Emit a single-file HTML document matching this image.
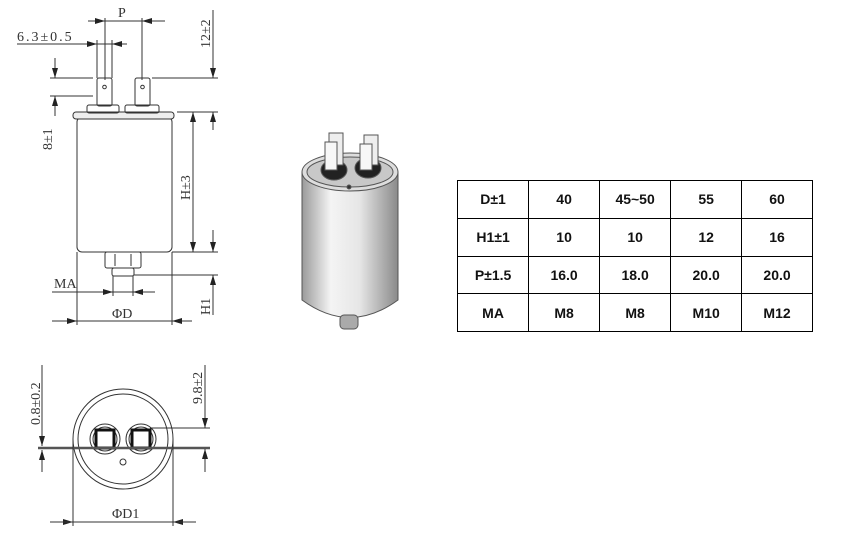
<!DOCTYPE html>
<html><head><meta charset="utf-8"><style>
body{margin:0;background:#fff;width:846px;height:548px;overflow:hidden;position:relative;font-family:"Liberation Sans",sans-serif}
svg{position:absolute;left:0;top:0}
table{position:absolute;left:457px;top:180px;border-collapse:collapse;width:356px;height:152px}
td{border:1.5px solid #000;text-align:center;font-size:14px;font-weight:bold;color:#111;width:71px;padding:0}
</style></head><body>
<svg width="846" height="548" viewBox="0 0 846 548">
<defs>
<marker id="a" viewBox="0 0 10 6" refX="10" refY="3" markerWidth="10" markerHeight="6" orient="auto-start-reverse"><path d="M0,0L10,3L0,6z" fill="#222"/></marker>
<linearGradient id="g" x1="0" x2="1"><stop offset="0" stop-color="#9a9a9a"/><stop offset=".3" stop-color="#f4f4f4"/><stop offset=".6" stop-color="#e6e6e6"/><stop offset="1" stop-color="#8a8a8a"/></linearGradient>
</defs>
<g stroke="#333" stroke-width="1" fill="none" font-family="Liberation Serif,serif" font-size="14">
<rect x="77" y="117" width="95" height="135" rx="5" fill="#fff"/>
<rect x="73" y="112" width="101" height="7" rx="3" fill="#eee"/>
<rect x="87" y="105" width="32" height="8" rx="2"/><rect x="125" y="105" width="34" height="8" rx="2"/>
<rect x="97" y="78" width="15" height="28" rx="2"/><rect x="135" y="78" width="15" height="28" rx="2"/>
<circle cx="104.5" cy="87" r="1.8"/><circle cx="142.5" cy="87" r="1.8"/>
<rect x="105" y="252" width="36" height="16" rx="2"/><rect x="112" y="268" width="22" height="8" rx="2"/>
<line x1="115" y1="254" x2="115" y2="266"/><line x1="131" y1="254" x2="131" y2="266"/>
<line x1="88" y1="21" x2="165" y2="21"/>
<line x1="90" y1="21" x2="105" y2="21" marker-end="url(#a)"/><line x1="160" y1="21" x2="142" y2="21" marker-end="url(#a)"/>
<line x1="105" y1="18" x2="105" y2="80"/><line x1="142" y1="18" x2="142" y2="80"/>
<text x="118" y="17" stroke="none" fill="#333">P</text>
<line x1="17" y1="44" x2="127" y2="44"/>
<line x1="82" y1="44" x2="97" y2="44" marker-end="url(#a)"/><line x1="127" y1="44" x2="112" y2="44" marker-end="url(#a)"/>
<line x1="97" y1="40" x2="97" y2="78"/><line x1="112" y1="40" x2="112" y2="78"/>
<text x="17" y="41" stroke="none" fill="#333" letter-spacing="2">6.3±0.5</text>
<line x1="50" y1="78" x2="93" y2="78"/><line x1="50" y1="96" x2="93" y2="96"/>
<line x1="55" y1="58" x2="55" y2="78" marker-end="url(#a)"/><line x1="55" y1="116" x2="55" y2="96" marker-end="url(#a)"/>
<text transform="translate(52,150) rotate(-90)" stroke="none" fill="#333">8±1</text>
<line x1="152" y1="78" x2="218" y2="78"/><line x1="177" y1="112" x2="218" y2="112"/>
<line x1="213" y1="55" x2="213" y2="78" marker-end="url(#a)"/><line x1="213" y1="130" x2="213" y2="112" marker-end="url(#a)"/>
<line x1="213" y1="10" x2="213" y2="55"/>
<text transform="translate(210,48) rotate(-90)" stroke="none" fill="#333">12±2</text>
<line x1="193" y1="112" x2="193" y2="252" marker-start="url(#a)" marker-end="url(#a)"/>
<text transform="translate(190,200) rotate(-90)" stroke="none" fill="#333">H±3</text>
<line x1="172" y1="252" x2="218" y2="252"/><line x1="134" y1="275" x2="218" y2="275"/>
<line x1="213" y1="230" x2="213" y2="252" marker-end="url(#a)"/><line x1="213" y1="300" x2="213" y2="275" marker-end="url(#a)"/>
<line x1="213" y1="300" x2="213" y2="315"/>
<text transform="translate(210,315) rotate(-90)" stroke="none" fill="#333">H1</text>
<line x1="52" y1="292" x2="155" y2="292"/>
<line x1="98" y1="292" x2="113" y2="292" marker-end="url(#a)"/><line x1="148" y1="292" x2="133" y2="292" marker-end="url(#a)"/>
<line x1="113" y1="276" x2="113" y2="296"/><line x1="133" y1="276" x2="133" y2="296"/>
<text x="54" y="288" stroke="none" fill="#333">MA</text>
<line x1="52" y1="321" x2="192" y2="321"/>
<line x1="60" y1="321" x2="77" y2="321" marker-end="url(#a)"/><line x1="188" y1="321" x2="172" y2="321" marker-end="url(#a)"/>
<line x1="77" y1="252" x2="77" y2="325"/><line x1="172" y1="252" x2="172" y2="325"/>
<text x="112" y="318" stroke="none" fill="#333">ΦD</text>
<circle cx="123" cy="439" r="50"/><circle cx="123" cy="439" r="45"/>
<circle cx="105" cy="439" r="15"/><circle cx="105" cy="439" r="12"/>
<circle cx="141" cy="439" r="15"/><circle cx="141" cy="439" r="12"/>
<rect x="96" y="430" width="18" height="18" stroke-width="3" stroke="#111"/>
<rect x="132" y="430" width="18" height="18" stroke-width="3" stroke="#111"/>
<circle cx="123" cy="462" r="3"/>
<line x1="38" y1="448" x2="210" y2="448" stroke-width="2.5" stroke="#555"/>
<line x1="150" y1="428" x2="210" y2="428"/>
<line x1="42" y1="365" x2="42" y2="446" marker-end="url(#a)"/><line x1="42" y1="472" x2="42" y2="450" marker-end="url(#a)"/>
<text transform="translate(40,425) rotate(-90)" stroke="none" fill="#333">0.8±0.2</text>
<line x1="205" y1="365" x2="205" y2="428" marker-end="url(#a)"/><line x1="205" y1="472" x2="205" y2="449" marker-end="url(#a)"/>
<text transform="translate(202,404) rotate(-90)" stroke="none" fill="#333">9.8±2</text>
<line x1="73" y1="439" x2="73" y2="526"/><line x1="173" y1="439" x2="173" y2="526"/>
<line x1="50" y1="522" x2="73" y2="522" marker-end="url(#a)"/><line x1="196" y1="522" x2="173" y2="522" marker-end="url(#a)"/>
<line x1="50" y1="522" x2="196" y2="522"/>
<text x="112" y="518" stroke="none" fill="#333">ΦD1</text>
</g>
<g stroke="#555" stroke-width="1">
<path d="M302 172 L302 300 Q350 335 398 300 L398 172 Z" fill="url(#g)"/>
<ellipse cx="350" cy="172" rx="48" ry="19" fill="#ddd"/>
<ellipse cx="350" cy="172" rx="43" ry="15" fill="#c8c8c8"/>
<rect x="340" y="315" width="18" height="14" rx="4" fill="#aaa"/>
<ellipse cx="334" cy="170" rx="13" ry="10" fill="#222"/><ellipse cx="368" cy="168" rx="13" ry="10" fill="#222"/>
<rect x="329" y="133" width="14" height="32" fill="#eee"/><rect x="325" y="142" width="12" height="28" fill="#f7f7f7"/>
<rect x="364" y="135" width="14" height="30" fill="#eee"/><rect x="360" y="144" width="12" height="26" fill="#f7f7f7"/>
<circle cx="349" cy="187" r="2" fill="#333"/>
</g>
</svg>
<table>
<tr><td>D±1</td><td>40</td><td>45~50</td><td>55</td><td>60</td></tr>
<tr><td>H1±1</td><td>10</td><td>10</td><td>12</td><td>16</td></tr>
<tr><td>P±1.5</td><td>16.0</td><td>18.0</td><td>20.0</td><td>20.0</td></tr>
<tr><td>MA</td><td>M8</td><td>M8</td><td>M10</td><td>M12</td></tr>
</table>
</body></html>
